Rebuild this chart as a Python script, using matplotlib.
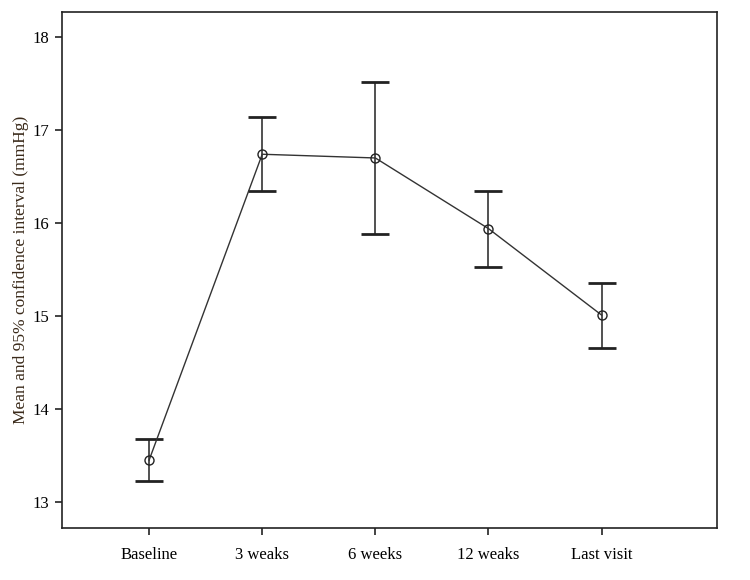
import matplotlib
matplotlib.use("Agg")
import matplotlib.pyplot as plt

categories = ["Baseline", "3 weaks", "6 weeks", "12 weaks", "Last visit"]
means = [13.45, 16.74, 16.70, 15.94, 15.01]
ci_upper = [13.68, 17.14, 17.52, 16.35, 15.36]
ci_lower = [13.23, 16.34, 15.88, 15.53, 14.66]
yticks = [13, 14, 15, 16, 17, 18]

plt.rcParams['font.family'] = ['Liberation Serif', 'DejaVu Serif']

fig = plt.figure(figsize=(7.5, 5.8), dpi=100)
ax = fig.add_axes([62/750, 1-528/580, (717-62)/750, (528-12)/580])

x = list(range(len(categories)))
yerr = [[m - l for m, l in zip(means, ci_lower)], [u - m for m, u in zip(means, ci_upper)]]
ax.errorbar(x, means, yerr=yerr, fmt='none', ecolor='#222222', elinewidth=1.1,
            capsize=10, capthick=2.0, zorder=2)
ax.plot(x, means, color='#333333', linewidth=1.0, marker='o', markersize=6.5,
        markerfacecolor='none', markeredgecolor='#222222', markeredgewidth=1.0, zorder=3)

ax.set_xlim(-0.77, 5.02)
ax.set_ylim(12.72, 18.27)
ax.set_xticks(x)
ax.set_xticklabels(categories, fontsize=12)
ax.set_yticks(yticks)
ax.set_yticklabels([str(t) for t in yticks], fontsize=12)
ax.tick_params(axis='both', direction='out', length=5, width=1.2, color='#222222', pad=4)
ax.tick_params(axis='x', pad=9)
for s in ax.spines.values():
    s.set_linewidth(1.2)
    s.set_color('#222222')
ax.set_ylabel("Mean and 95% confidence interval (mmHg)", fontsize=12.5, color='#3a2a1a', labelpad=3)

fig.savefig("out.png", dpi=100)
